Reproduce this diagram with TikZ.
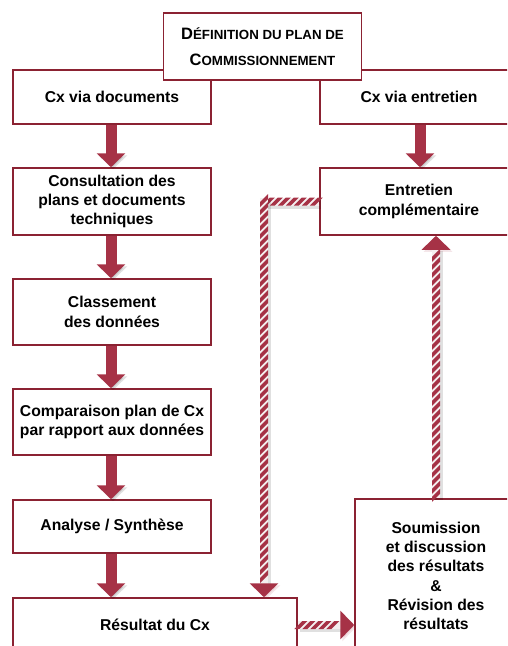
\documentclass[tikz,border=0pt]{standalone}
\usepackage{fontspec}
\setmainfont{Liberation Sans}
\usetikzlibrary{arrows.meta,decorations.markings}
\definecolor{boxred}{HTML}{8B2232}
\definecolor{arrred}{HTML}{A63246}
\definecolor{hatchbg}{HTML}{F4EEEF}
\tikzset{
  box/.style={draw=boxred, line width=1.5pt, fill=white, minimum width=198pt,
    inner sep=0pt, align=center, text=black,
    font=\fontsize{15.7}{19.3}\selectfont\bfseries},
  flow/.style={draw=arrred, line width=11pt, -{Triangle[width=28pt,length=14pt]},
    preaction={draw=black, opacity=0.12, transform canvas={shift={(2pt,-2pt)}}}},
  hbase/.style={line width=8pt, draw=hatchbg,
    preaction={draw=black, opacity=0.12, line width=10pt,
      transform canvas={shift={(2pt,-2pt)}}}},
  htip/.style={-{Triangle[width=28pt,length=14pt,color=arrred]}},
  stripesH/.style={postaction={decorate, decoration={markings,
      mark=between positions #1 step 8pt with
        {\fill[arrred] (-6.5pt,-4pt) -- (-1.5pt,-4pt) -- (6.5pt,4pt) -- (1.5pt,4pt) -- cycle;}}}},
  stripesV/.style={postaction={decorate, decoration={markings,
      mark=between positions #1 step 8pt with
        {\fill[arrred] (-6.5pt,4pt) -- (-1.5pt,4pt) -- (6.5pt,-4pt) -- (1.5pt,-4pt) -- cycle;}}}}
}
\begin{document}
\begin{tikzpicture}[x=1pt,y=-1pt]
\useasboundingbox (0,0) rectangle (507,646);
\clip (0,0) rectangle (507,646);

% boxes
\node[box, minimum height=54pt] (cxdoc) at (112,97) {Cx via documents};
\node[box, minimum height=54pt] (cxent) at (419,97) {Cx via entretien};
\node[box, minimum height=67pt] (cons) at (112,201.5) {Consultation des\\plans et documents\\techniques};
\node[box, minimum height=67pt] (ent) at (419,201.5) {Entretien\\complémentaire};
\node[box, minimum height=66pt] (clas) at (112,312) {Classement\\des données};
\node[box, minimum height=66pt] (comp) at (112,422) {Comparaison plan de Cx\\par rapport aux données};
\node[box, minimum height=53pt] (anal) at (112,526.5) {Analyse / Synthèse};
\node[box, minimum height=54pt, minimum width=284pt] (res) at (155,625) {Résultat du Cx};
\node[box, minimum height=154pt, minimum width=162pt] (soum) at (436,576)
  {Soumission\\et discussion\\des résultats\\\&\\Révision des\\résultats};

% title
\node[box, minimum height=67pt, font=\fontsize{13.3}{26}\selectfont\bfseries] (title) at (262.5,46.5)
  {{\fontsize{16.5}{26}\selectfont D}ÉFINITION DU PLAN DE\\{\fontsize{16.5}{26}\selectfont C}OMMISSIONNEMENT};

% main flow arrows
\draw[flow] ([xshift=-1pt]cxdoc.south) -- ([xshift=-1pt]cons.north);
\draw[flow] ([xshift=-1pt]cons.south) -- ([xshift=-1pt]clas.north);
\draw[flow] ([xshift=-1pt]clas.south) -- ([xshift=-1pt]comp.north);
\draw[flow] ([xshift=-1pt]comp.south) -- ([xshift=-1pt]anal.north);
\draw[flow] ([xshift=-1pt]anal.south) -- ([xshift=-1pt]anal.south |- res.north);
\draw[flow] ([xshift=1pt]cxent.south) -- ([xshift=1pt]ent.north);

% hatched connectors
\coordinate (c1) at (264,201.5);
\draw[hbase, stripesH={3pt and -4pt}] (ent.west) -- (c1);
\draw[hbase, htip, stripesV={3pt and -16pt}] ([yshift=4pt]c1) -- (c1 |- res.north);
\draw[hbase, htip, stripesH={3pt and -16pt}] (res.east) -- (res.east -| soum.west);
\draw[hbase, htip, stripesV={3pt and -16pt}] (soum.north) -- (soum.north |- ent.south);
\end{tikzpicture}
\end{document}
